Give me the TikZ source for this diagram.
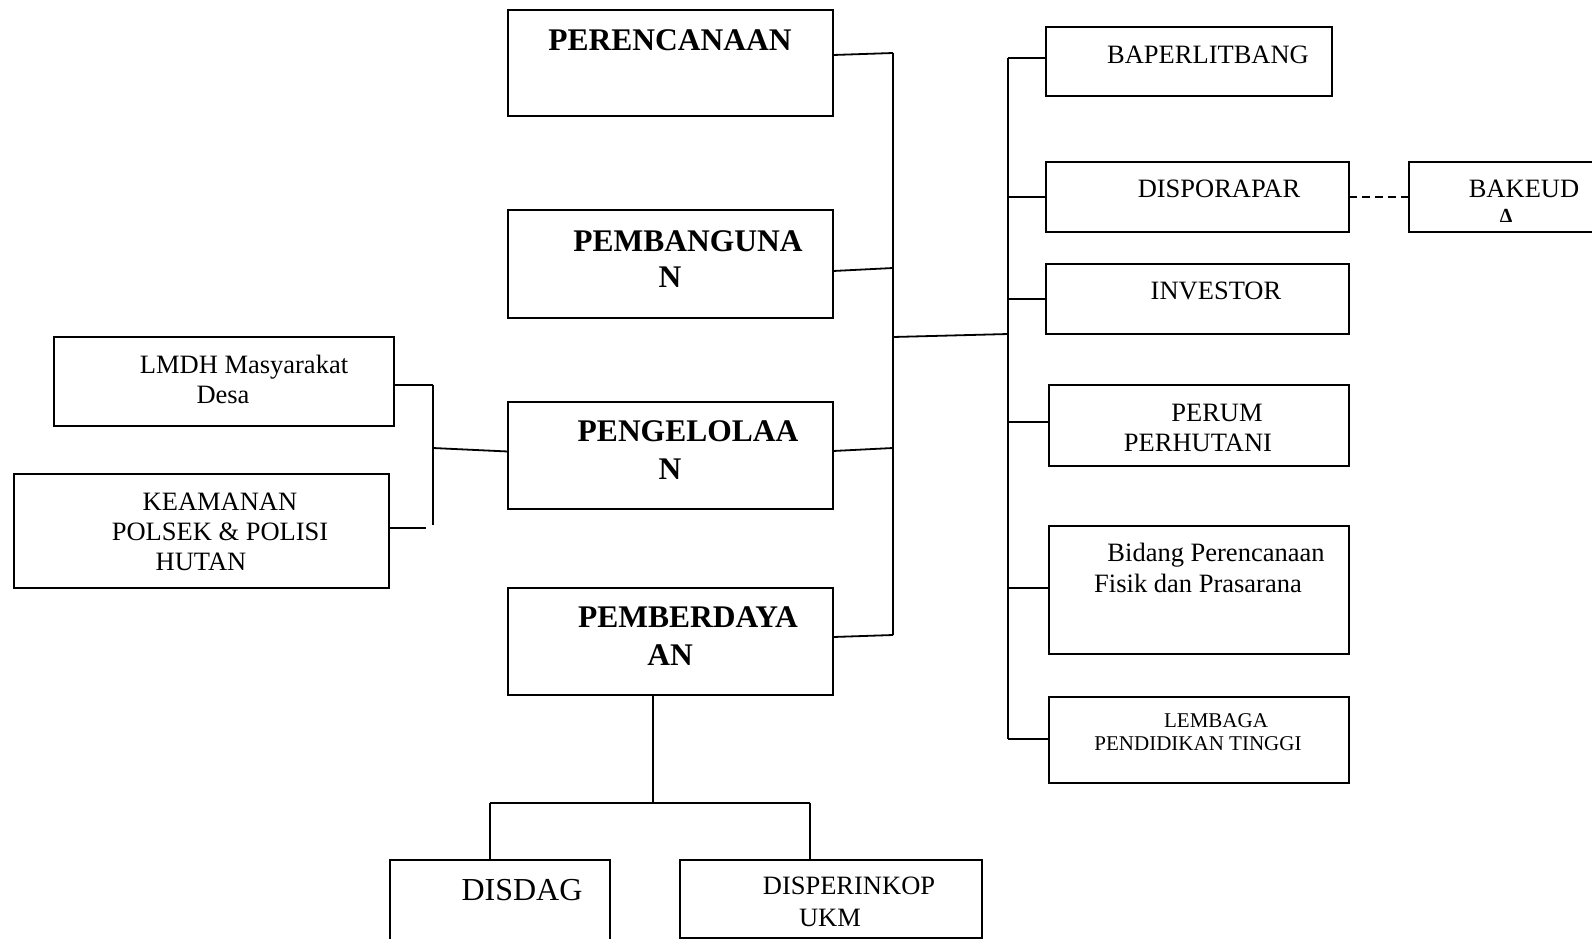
\documentclass[tikz,border=0pt]{standalone}
\usepackage{fontspec}
\setmainfont{Liberation Serif}
\begin{document}
\begin{tikzpicture}[x=1pt,y=-1pt,
  box/.style 2 args={draw, line width=1.8pt, minimum width=#1, minimum height=#2, inner sep=0pt, outer sep=0pt},
  conn/.style={line width=1.8pt},
  hd/.style={anchor=base, inner sep=0pt, font=\fontsize{31.5}{36}\selectfont\bfseries},
  tx/.style={anchor=base, inner sep=0pt, font=\fontsize{26.5}{30}\selectfont},
  sm/.style={anchor=base, inner sep=0pt, font=\fontsize{21}{24}\selectfont},
  big/.style={anchor=base, inner sep=0pt, font=\fontsize{32}{36}\selectfont},
  tiny/.style={anchor=base, inner sep=0pt, font=\fontsize{20}{22}\selectfont\bfseries}]
\useasboundingbox (0,0) rectangle (1592,938);

% boxes
\node[box={325}{106}] (per) at (670.5,63) {};
\node[box={325}{108}] (pbg) at (670.5,264) {};
\node[box={325}{107}] (pgl) at (670.5,455.5) {};
\node[box={325}{107}] (pbd) at (670.5,641.5) {};
\node[box={286}{69}] (bap) at (1189,61.5) {};
\node[box={303}{70}] (dsp) at (1197.5,197) {};
\node[box={190}{70}] (bak) at (1504,197) {};
\node[box={303}{70}] (inv) at (1197.5,299) {};
\node[box={300}{81}] (prm) at (1199,425.5) {};
\node[box={300}{128}] (bid) at (1199,590) {};
\node[box={300}{86}] (lem) at (1199,740) {};
\node[box={340}{89}] (lmdh) at (224,381.5) {};
\node[box={375}{114}] (kea) at (201.5,531) {};
\node[box={220}{90}] (dsd) at (500,905) {};
\node[box={302}{78}] (dpk) at (831,899) {};

% texts
\node[hd] (tper) at (670,50.5) {PERENCANAAN};
\node[hd] (tpbg1) at (688,251.5) {PEMBANGUNA};
\node[hd] (tpbg2) at (670,287.5) {N};
\node[hd] (tpgl1) at (688,441.5) {PENGELOLAA};
\node[hd] (tpgl2) at (670,479.5) {N};
\node[hd] (tpbd1) at (688,627.5) {PEMBERDAYA};
\node[hd] (tpbd2) at (670,665.5) {AN};
\node[tx] (tbap) at (1208,63) {BAPERLITBANG};
\node[tx] (tdsp) at (1219,197) {DISPORAPAR};
\node[tx] (tbak) at (1524,197) {BAKEUD};
\node[tiny] (tdel) at (1506,222) {Δ};
\node[tx] (tinv) at (1216,299) {INVESTOR};
\node[tx] (tprm1) at (1217,421) {PERUM};
\node[tx] (tprm2) at (1198,451) {PERHUTANI};
\node[tx] (tbid1) at (1216,561) {Bidang Perencanaan};
\node[tx] (tbid2) at (1198,592) {Fisik dan Prasarana};
\node[sm] (tlem1) at (1216,727) {LEMBAGA};
\node[sm] (tlem2) at (1198,750) {PENDIDIKAN TINGGI};
\node[tx] (tlm1) at (244,373) {LMDH Masyarakat};
\node[tx] (tlm2) at (223,403) {Desa};
\node[tx] (tkea1) at (220,510) {KEAMANAN};
\node[tx] (tkea2) at (220,540) {POLSEK \& POLISI};
\node[tx] (tkea3) at (201,570) {HUTAN};
\node[big] (tdsd) at (522,900.5) {DISDAG};
\node[tx] (tdpk1) at (849,894) {DISPERINKOP};
\node[tx] (tdpk2) at (830,926) {UKM};

% trunk coordinates
\coordinate (LT1) at (893,53);
\coordinate (LT2) at (893,268);
\coordinate (LT3) at (893,448);
\coordinate (LT4) at (893,635);
\coordinate (LTm) at (893,337);
\coordinate (RT1) at (1008,58);
\coordinate (RT2) at (1008,197);
\coordinate (RT3) at (1008,299);
\coordinate (RT4) at (1008,422);
\coordinate (RT5) at (1008,588);
\coordinate (RT6) at (1008,739);
\coordinate (RTm) at (1008,334);
\coordinate (L1) at (433,385);
\coordinate (L2) at (433,525);
\coordinate (Lm) at (433,448);
\coordinate (K1) at (426,528);
\coordinate (B1) at (653,803);
\coordinate (BL) at (490,803);
\coordinate (BR) at (810,803);

% left trunk
\draw[conn] (LT1) -- (LT4);
\draw[conn] ([yshift=-45pt]per.north east) -- (LT1);
\draw[conn] ([yshift=-61pt]pbg.north east) -- (LT2);
\draw[conn] ([yshift=-49pt]pgl.north east) -- (LT3);
\draw[conn] ([yshift=-49pt]pbd.north east) -- (LT4);
\draw[conn] (LTm) -- (RTm);

% right trunk
\draw[conn] (RT1) -- (RT6);
\draw[conn] (RT1) -- (RT1 -| bap.west);
\draw[conn] (RT2) -- (RT2 -| dsp.west);
\draw[conn] (RT3) -- (RT3 -| inv.west);
\draw[conn] (RT4) -- (RT4 -| prm.west);
\draw[conn] (RT5) -- (RT5 -| bid.west);
\draw[conn] (RT6) -- (RT6 -| lem.west);
\draw[conn, dash pattern=on 8pt off 5pt] (dsp.east) -- (bak.west);

% left group
\draw[conn] (L1) -- (L2);
\draw[conn] (L1 -| lmdh.east) -- (L1);
\draw[conn] (Lm) -- ([yshift=4pt]pgl.west);
\draw[conn] (K1 -| kea.east) -- (K1);

% bottom group
\draw[conn] (B1 |- pbd.south) -- (B1);
\draw[conn] (BL) -- (BR);
\draw[conn] (BL) -- (BL |- dsd.north);
\draw[conn] (BR) -- (BR |- dpk.north);
\end{tikzpicture}
\end{document}
